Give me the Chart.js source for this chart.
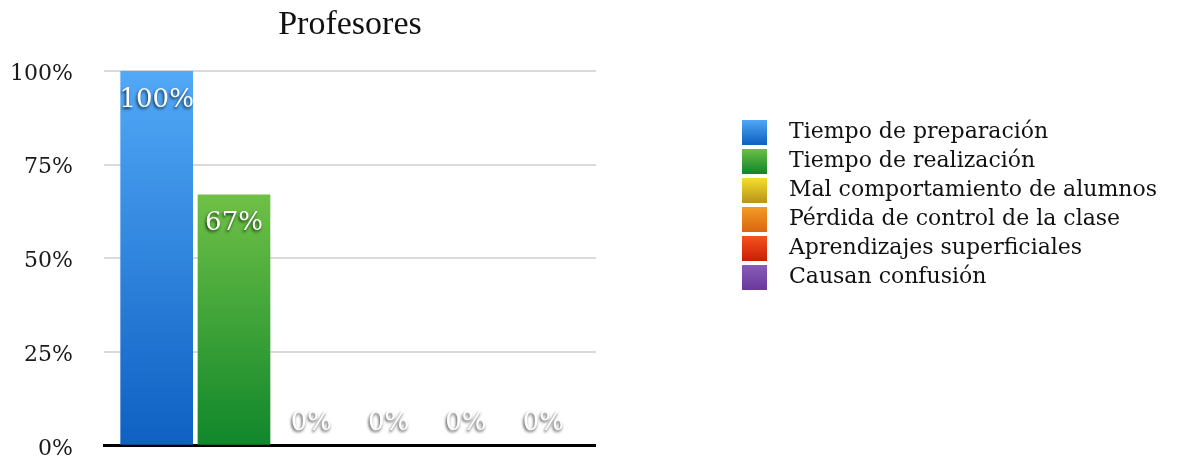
<!DOCTYPE html>
<html>
<head>
<meta charset="utf-8">
<script src="https://cdn.jsdelivr.net/npm/chart.js@4"></script>
<style>
  html, body { margin: 0; padding: 0; background: #fff; overflow: hidden; }
  #wrap { width: 1182px; height: 490px; }
</style>
</head>
<body>
<div id="wrap"><canvas id="profChart"></canvas></div>
<script>
const chartTitle = 'Profesores';
const categories = [''];
const seriesNames = [
    'Tiempo de preparación',
    'Tiempo de realización',
    'Mal comportamiento de alumnos',
    'Pérdida de control de la clase',
    'Aprendizajes superficiales',
    'Causan confusión'
];
const seriesValues = [100, 67, 0, 0, 0, 0];
const yTicks = [0, 25, 50, 75, 100];

// gradient stops, light at the top of each bar, darker at the base
const topColors = ['#52a9f7', '#6fc046', '#f7e12a', '#f39d27', '#f7531f', '#8a5db8'];
const bottomColors = ['#0e60c2', '#10872b', '#b8951c', '#dd6611', '#c92006', '#69399c'];

const SERIF = '"DejaVu Serif", serif';

function barGradient(c, i) {
    const chart = c.chart;
    const y = chart.scales.y;
    if (!chart.chartArea || !y) return topColors[i];
    const top = y.getPixelForValue(seriesValues[i]);
    const bottom = y.getPixelForValue(0);
    if (bottom - top < 1) return bottomColors[i];
    const g = chart.ctx.createLinearGradient(0, top, 0, bottom);
    g.addColorStop(0, topColors[i]);
    g.addColorStop(1, bottomColors[i]);
    return g;
}

// small canvas used as legend marker: gradient square on the left, empty gap on the right
function legendSwatch(i) {
    const c = document.createElement('canvas');
    c.width = 36;
    c.height = 25;
    const g = c.getContext('2d');
    const grad = g.createLinearGradient(0, 0, 0, 25);
    grad.addColorStop(0, topColors[i]);
    grad.addColorStop(1, bottomColors[i]);
    g.fillStyle = grad;
    g.fillRect(0, 0, 25, 25);
    return c;
}

// white value text with a soft drop shadow, inside the top of a bar or just above the axis
const valueLabels = {
    id: 'valueLabels',
    afterDatasetsDraw(chart) {
        const ctx = chart.ctx;
        ctx.save();
        ctx.font = '26px ' + SERIF;
        ctx.fillStyle = '#ffffff';
        ctx.textAlign = 'center';
        ctx.textBaseline = 'middle';
        ctx.shadowColor = 'rgba(0,0,0,0.75)';
        ctx.shadowBlur = 3;
        ctx.shadowOffsetX = -1;
        ctx.shadowOffsetY = 2;
        chart.data.datasets.forEach((ds, i) => {
            const bar = chart.getDatasetMeta(i).data[0];
            const v = ds.data[0];
            const y = v > 0 ? bar.y + 29 : bar.base - 23;
            ctx.fillText(v + '%', bar.x, y);
        });
        ctx.restore();
    }
};

const datasets = seriesNames.map((name, i) => ({
    label: name,
    data: [seriesValues[i]],
    backgroundColor: c => barGradient(c, i),
    borderWidth: 0,
    categoryPercentage: 0.943,
    barPercentage: 0.94
}));

const chart = new Chart(document.getElementById('profChart'), {
    type: 'bar',
    data: { labels: categories, datasets: datasets },
    plugins: [valueLabels],
    options: {
        responsive: true,
        maintainAspectRatio: false,
        animation: false,
        layout: { padding: { left: 10, top: 5, right: 15, bottom: 0 } },
        scales: {
            x: {
                grid: { display: false },
                ticks: { display: false },
                border: { display: true, color: '#000', width: 3 },
                afterFit: s => { s.height = 0; }
            },
            y: {
                min: 0,
                max: 100,
                afterBuildTicks: s => { s.ticks = yTicks.map(v => ({ value: v })); },
                ticks: {
                    callback: v => v + '%',
                    color: '#1a1a1a',
                    font: { family: SERIF, size: 22 },
                    padding: 31,
                    labelOffset: 3
                },
                grid: { color: '#dadada', lineWidth: 2, drawTicks: false },
                border: { display: false },
                afterFit: s => { s.width = 94; }
            },
            // empty axis that keeps the gap between the plot and the legend
            gap: {
                position: 'right',
                grid: { display: false },
                ticks: { display: false },
                border: { display: false },
                afterFit: s => { s.width = 139; }
            }
        },
        plugins: {
            title: {
                display: true,
                text: chartTitle,
                fullSize: false,
                color: '#111',
                font: { family: '"Liberation Serif", serif', size: 34, weight: 'normal' },
                padding: { top: 0, bottom: 25 }
            },
            legend: {
                position: 'right',
                align: 'start',
                maxWidth: 600,
                // blank title pushes the rows down
                title: { display: true, text: '', font: { size: 10 }, padding: { top: 97, bottom: 0 } },
                labels: {
                    usePointStyle: true,
                    pointStyleWidth: 36,
                    boxHeight: 22,
                    padding: 7,
                    color: '#111',
                    font: { family: SERIF, size: 22 },
                    generateLabels: ch => ch.data.datasets.map((ds, i) => ({
                        text: ds.label,
                        pointStyle: legendSwatch(i),
                        fillStyle: topColors[i],
                        fontColor: '#111',
                        lineWidth: 0,
                        hidden: false,
                        datasetIndex: i
                    }))
                }
            },
            tooltip: { enabled: false }
        }
    }
});
</script>
</body>
</html>
